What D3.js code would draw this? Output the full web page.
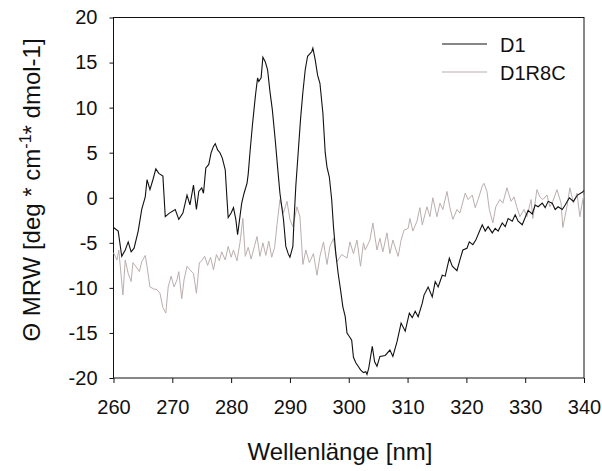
<!DOCTYPE html>
<html>
<head>
<meta charset="utf-8">
<script src="https://cdn.jsdelivr.net/npm/d3@7"></script>
<style>
  body { margin: 0; background: #fff; }
  svg { font-family: "Liberation Sans", Arial, sans-serif; }
</style>
</head>
<body>
<div id="chart"></div>
<script>
// wavelength [nm] / value pairs
const d1Wave = [260.0,260.8,261.4,262.0,262.5,263.0,263.5,264.2,264.8,265.4,265.7,266.2,266.7,267.2,267.7,268.4,268.8,269.5,270.5,271.1,271.8,272.5,273.0,273.6,274.1,274.5,275.0,275.3,275.7,276.2,276.6,277.0,277.3,277.7,278.1,278.5,279.0,279.3,279.5,280.0,280.4,280.8,281.1,281.5,281.8,282.2,282.7,282.9,283.2,283.6,284.0,284.2,284.5,284.7,285.1,285.4,285.8,286.2,286.6,287.0,287.5,287.9,288.3,288.9,289.3,289.7,290.0,290.5,290.7,291.0,291.4,291.8,292.2,292.6,293.0,293.3,293.7,293.9,294.3,294.7,295.1,295.6,296.0,296.3,296.7,297.1,297.4,297.8,298.2,298.6,299.0,299.4,299.7,300.1,300.5,300.8,301.2,301.6,302.0,302.5,302.9,303.1,303.4,304.0,304.4,304.8,305.3,306.2,307.0,307.5,308.2,308.9,309.6,310.3,310.8,311.3,311.8,312.5,312.8,313.5,314.2,314.7,315.2,315.9,316.4,317.1,317.6,318.4,318.9,319.4,320.1,320.5,321.1,321.6,322.3,322.7,323.2,323.7,324.4,324.9,325.4,326.1,326.6,327.1,327.8,328.3,328.8,329.5,330.0,330.5,331.2,331.7,332.2,332.9,333.4,333.9,334.6,335.1,335.6,336.3,336.8,337.5,338.2,338.9,339.7,340.0];
const d1Vals = [-3.3,-3.7,-6.5,-5.8,-4.9,-6.0,-5.6,-3.7,-1.3,0.1,2.0,0.9,2.0,3.2,2.7,2.4,-2.1,-1.7,-1.3,-2.4,-1.7,0.3,-0.8,1.4,-1.3,0.7,1.1,0.5,3.3,3.7,5.0,5.7,6.0,5.3,5.0,4.4,3.1,-0.2,-2.2,-1.7,-1.1,-2.4,-4.1,-2.1,-0.6,0.5,1.6,2.6,5.0,7.9,10.5,11.7,13.3,12.9,13.3,15.6,15.1,14.2,11.8,9.8,6.4,3.4,0.5,-2.4,-5.4,-6.2,-6.6,-5.4,-2.4,1.3,5.0,8.7,11.7,14.2,15.7,15.9,16.2,16.6,15.3,13.6,12.7,9.4,5.0,3.4,2.3,-0.2,-3.2,-6.2,-8.4,-10.2,-12.1,-13.2,-15.0,-15.4,-15.8,-17.7,-18.3,-18.7,-19.1,-19.4,-19.3,-19.6,-18.9,-16.5,-18.2,-18.7,-17.6,-17.5,-16.9,-17.6,-16.0,-13.9,-14.8,-12.8,-13.3,-12.6,-13.2,-11.7,-10.8,-9.9,-11.0,-9.3,-9.9,-8.6,-8.7,-6.7,-7.6,-8.1,-6.9,-5.8,-5.6,-4.9,-5.2,-4.7,-3.6,-3.0,-3.7,-3.2,-3.9,-3.4,-3.7,-2.8,-3.2,-2.3,-2.6,-1.9,-2.6,-3.0,-2.2,-1.4,-1.8,-0.8,-1.0,-0.6,-1.1,-0.4,-0.6,-1.3,-1.0,-1.3,-0.8,0.0,-0.4,0.3,0.6,0.8];

const r8cWave = [260.0,260.6,260.9,261.6,262.0,262.5,263.0,263.3,264.0,264.4,264.8,265.4,265.7,266.2,266.8,267.4,267.9,268.4,268.9,269.3,269.8,270.3,270.8,271.1,271.6,272.0,272.5,273.0,273.6,274.1,274.6,275.0,275.5,276.0,276.5,277.0,277.5,278.0,278.4,279.0,279.5,280.0,280.4,281.0,281.5,282.0,282.4,282.9,283.4,284.0,284.4,284.9,285.4,285.9,286.4,286.9,287.4,287.8,288.3,288.9,289.5,290.0,290.5,291.2,291.7,292.2,292.7,293.3,294.0,294.6,295.1,295.7,296.3,296.8,297.4,298.0,298.8,299.7,300.2,300.8,301.4,302.0,302.5,302.8,303.6,304.1,304.8,305.3,305.8,306.5,307.0,307.5,308.4,308.9,309.4,310.1,310.4,310.9,311.6,312.1,312.5,313.3,313.8,314.3,315.0,315.5,316.0,316.7,317.2,317.7,318.4,318.9,319.8,320.3,321.0,321.5,322.0,322.7,323.0,323.5,323.9,324.5,325.0,325.7,326.2,326.9,327.6,328.1,328.6,329.1,329.8,330.3,331.0,331.3,332.0,332.5,333.0,333.7,334.2,334.7,335.4,336.1,336.4,337.1,337.6,338.2,338.8,339.3,339.8,340.0];
const r8cVals = [-6.1,-6.9,-5.8,-10.8,-6.9,-8.4,-9.3,-7.2,-7.8,-8.2,-7.1,-6.4,-7.6,-9.9,-10.1,-10.2,-10.6,-12.2,-12.8,-9.9,-8.7,-9.9,-9.1,-8.2,-11.2,-9.1,-7.6,-8.0,-8.4,-10.6,-7.2,-7.0,-6.5,-7.5,-6.6,-8.0,-6.3,-7.0,-6.0,-6.9,-5.4,-6.6,-5.8,-7.0,-5.0,-2.3,-6.5,-5.5,-6.8,-5.3,-4.3,-6.5,-5.0,-6.4,-4.8,-6.6,-5.5,-3.0,-0.2,-1.7,-0.4,-2.4,-3.2,-1.0,-2.1,-7.4,-5.8,-7.2,-6.2,-8.6,-6.5,-4.9,-7.4,-5.4,-4.5,-7.1,-6.3,-6.7,-4.9,-6.2,-4.7,-7.6,-5.0,-5.8,-4.7,-2.8,-5.8,-4.5,-6.0,-3.9,-6.2,-4.7,-6.5,-4.7,-3.6,-3.4,-2.3,-3.7,-2.6,-1.1,-3.0,-1.0,-2.1,0.0,-2.1,-0.6,-1.3,0.7,-1.1,-2.4,-1.3,-1.7,0.5,-0.2,0.3,-1.1,-0.2,1.3,1.6,0.7,-1.3,-2.8,-1.0,-0.2,-0.6,1.1,-0.4,0.1,-1.1,-2.1,-1.3,-2.1,-0.2,-2.3,0.9,0.1,-0.2,0.3,-1.0,-0.4,0.9,-0.6,-3.3,-1.0,1.1,-0.6,0.5,-2.1,-0.2,0.3];

const xTicks = [260, 270, 280, 290, 300, 310, 320, 330, 340];
const yTicks = [-20, -15, -10, -5, 0, 5, 10, 15, 20];
const seriesNames = ["D1", "D1R8C"];
const seriesColors = ["#111111", "#bcaeae"];

const width = 602, height = 471;
const margin = {left: 113.5, right: 18, top: 17.5, bottom: 93};

const svg = d3.select("#chart").append("svg")
    .attr("width", width)
    .attr("height", height);

const x = d3.scaleLinear().domain([260, 340]).range([margin.left, width - margin.right]);
const y = d3.scaleLinear().domain([-20, 20]).range([height - margin.bottom, margin.top]);

// plain hyphen for negatives, like the original
const fmt = d => String(d);

// axes
const xAxis = svg.append("g")
    .attr("transform", "translate(0," + y(-20) + ")")
    .call(d3.axisBottom(x).tickValues(xTicks).tickFormat(fmt).tickSize(5).tickSizeOuter(0).tickPadding(17));
xAxis.select(".domain").remove();

const yAxis = svg.append("g")
    .attr("transform", "translate(" + x(260) + ",0)")
    .call(d3.axisLeft(y).tickValues(yTicks).tickFormat(fmt).tickSize(4).tickSizeOuter(0).tickPadding(12));
yAxis.select(".domain").remove();

svg.selectAll(".tick text")
    .attr("font-size", 20)
    .attr("font-family", "Liberation Sans, Arial, sans-serif")
    .attr("fill", "#111");
svg.selectAll(".tick line").attr("stroke", "#111");

// frame
svg.append("rect")
    .attr("x", x(260))
    .attr("y", y(20))
    .attr("width", x(340) - x(260))
    .attr("height", y(-20) - y(20))
    .attr("fill", "none")
    .attr("stroke", "#111")
    .attr("stroke-width", 1);

// lines
const line = d3.line()
    .x(d => x(d[0]))
    .y(d => y(d[1]));

const series = [
    d3.zip(d1Wave, d1Vals),
    d3.zip(r8cWave, r8cVals)
];

// grey first so black sits on top
svg.append("path")
    .datum(series[1])
    .attr("fill", "none")
    .attr("stroke", seriesColors[1])
    .attr("stroke-width", 1)
    .attr("d", line);

svg.append("path")
    .datum(series[0])
    .attr("fill", "none")
    .attr("stroke", seriesColors[0])
    .attr("stroke-width", 1.1)
    .attr("d", line);

// legend
const legend = svg.append("g").attr("transform", "translate(442,44)");
seriesNames.forEach((name, i) => {
    const g = legend.append("g").attr("transform", "translate(0," + (i * 28) + ")");
    g.append("line")
        .attr("x1", 0).attr("x2", 45)
        .attr("y1", 0).attr("y2", 0)
        .attr("stroke", seriesColors[i])
        .attr("stroke-width", 1.2);
    g.append("text")
        .attr("x", 58)
        .attr("y", 8)
        .attr("font-size", 20)
        .attr("fill", "#111")
        .text(name);
});

// axis titles
svg.append("text")
    .attr("x", 340)
    .attr("y", 460)
    .attr("text-anchor", "middle")
    .attr("font-size", 24)
    .attr("fill", "#111")
    .text("Wellenlänge [nm]");

const yTitle = svg.append("text")
    .attr("transform", "translate(40,190) rotate(-90)")
    .attr("text-anchor", "middle")
    .attr("font-size", 24)
    .attr("fill", "#111");
yTitle.append("tspan").text("Θ MRW [deg * cm");
yTitle.append("tspan").attr("dy", -9).attr("font-size", 16).text("-1");
yTitle.append("tspan").attr("dy", 9).text("* dmol-1]");
</script>
</body>
</html>
